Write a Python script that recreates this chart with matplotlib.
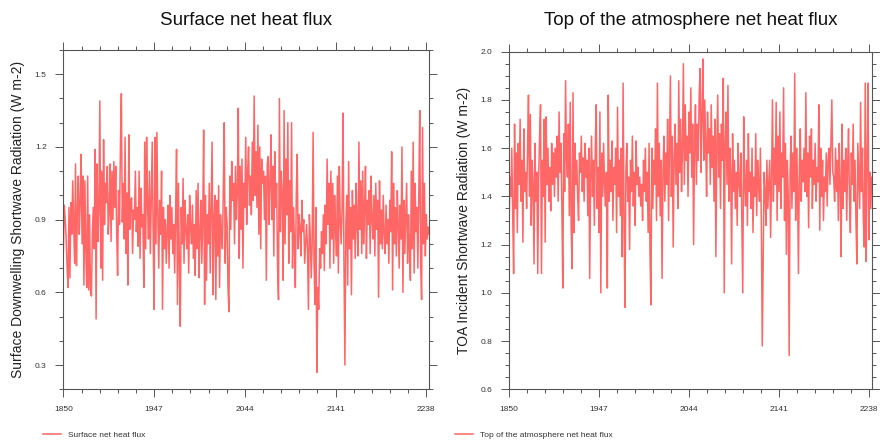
import numpy as np
import matplotlib
matplotlib.use('Agg')
import matplotlib.pyplot as plt
from matplotlib.ticker import FixedLocator, MultipleLocator, FormatStrFormatter

plt.rcParams['font.family'] = ['Liberation Sans', 'DejaVu Sans']

start_year = 1850
xtick_years = [1850, 1947, 2044, 2141, 2238]

# surface downwelling shortwave, one value per year from 1850
sfc_flux = [
    0.77, 0.96, 0.90, 0.82, 0.70, 0.62, 0.95, 0.66, 0.97, 0.84,
    1.06, 0.88, 0.72, 1.13, 0.71, 0.93, 1.08, 0.84, 0.97, 1.17,
    0.80, 1.08, 0.63, 1.06, 0.78, 0.62, 1.08, 0.61, 0.92, 0.60,
    0.585, 0.84, 0.95, 0.78, 1.19, 0.49, 1.13, 0.81, 0.95, 1.39,
    0.70, 1.10, 0.65, 1.23, 0.88, 1.05, 0.97, 1.12, 0.84, 0.93,
    1.13, 0.81, 1.10, 0.90, 1.14, 0.95, 1.12, 0.85, 0.67, 1.02,
    0.88, 1.20, 1.42, 0.89, 1.05, 0.82, 1.24, 0.76, 1.01, 0.63,
    1.25, 0.86, 0.98, 0.99, 0.76, 0.94, 0.90, 1.10, 0.85, 0.95,
    0.79, 1.10, 0.74, 1.03, 0.87, 0.92, 0.62, 1.22, 0.78, 1.24,
    0.96, 0.82, 1.10, 0.76, 0.98, 1.22, 0.85, 0.53, 1.24, 0.80,
    1.26, 0.92, 0.70, 0.98, 0.84, 1.10, 0.53, 0.95, 0.78, 0.90,
    0.72, 0.85, 0.96, 0.70, 1.00, 0.82, 0.95, 0.76, 0.88, 0.68,
    0.92, 1.19, 0.55, 1.05, 0.72, 0.46, 0.95, 0.80, 1.07, 0.72,
    0.98, 0.86, 0.78, 0.92, 0.68, 1.00, 0.87, 0.80, 0.96, 0.74,
    0.88, 0.67, 1.02, 0.78, 1.05, 0.66, 0.84, 0.98, 0.72, 0.90,
    1.27, 0.55, 1.00, 0.65, 0.92, 0.80, 1.05, 0.68, 0.95, 1.22,
    0.59, 0.90, 1.00, 0.57, 0.98, 0.75, 1.04, 0.62, 0.92, 0.84,
    0.78, 1.02, 1.30, 0.72, 0.95, 0.88, 0.62, 0.52, 1.08, 0.86,
    1.14, 0.98, 1.05, 0.80, 1.12, 0.90, 1.02, 1.36, 0.74, 1.12,
    0.86, 1.15, 0.70, 1.05, 0.95, 1.24, 0.88, 1.10, 1.20, 0.96,
    1.08, 0.92, 1.22, 0.98, 1.41, 1.00, 1.18, 0.95, 1.29, 0.84,
    1.20, 0.78, 1.15, 1.05, 1.10, 0.90, 1.08, 0.65, 1.13, 1.16,
    0.88, 1.05, 1.25, 0.90, 1.12, 0.75, 1.18, 0.95, 1.05, 0.70,
    0.57, 1.40, 0.85, 1.10, 1.00, 0.65, 1.35, 0.80, 1.15, 0.92,
    1.30, 0.72, 1.06, 0.85, 1.30, 0.70, 0.95, 0.82, 0.62, 1.00,
    1.17, 0.78, 0.92, 0.86, 0.75, 0.98, 0.85, 0.90, 0.72, 0.80,
    0.88, 0.78, 0.53, 0.92, 0.84, 0.66, 0.80, 1.26, 0.72, 0.55,
    0.95, 0.27, 0.62, 0.53, 0.78, 0.70, 0.85, 0.76, 0.92, 0.69,
    0.96, 0.80, 1.15, 0.88, 1.05, 0.70, 1.10, 0.82, 1.05, 0.72,
    1.00, 0.86, 0.75, 1.08, 0.68, 1.12, 0.90, 0.80, 0.95, 1.34,
    0.72, 0.30, 0.88, 1.00, 0.63, 1.14, 0.78, 0.95, 0.59, 1.02,
    0.82, 0.96, 0.74, 1.05, 0.88, 0.75, 1.22, 0.86, 1.06, 0.76,
    1.10, 0.80, 0.95, 1.12, 0.74, 0.98, 0.88, 1.02, 0.76, 1.08,
    0.90, 0.82, 1.00, 0.75, 1.05, 0.86, 0.98, 0.58, 1.06, 0.80,
    0.94, 0.78, 1.00, 0.84, 0.76, 0.96, 0.80, 0.90, 0.72, 0.98,
    0.85, 1.18, 0.61, 1.05, 0.80, 0.95, 0.75, 1.02, 0.88, 0.70,
    0.96, 0.82, 1.20, 0.60, 0.98, 0.76, 0.90, 1.05, 0.72, 0.92,
    0.80, 0.65, 1.10, 0.78, 1.22, 0.68, 1.05, 0.85, 0.95, 0.70,
    1.00, 1.35, 0.72, 0.57, 1.28, 0.80, 1.05, 0.75, 0.92, 0.82,
    0.87, 0.84,
]

# top of atmosphere incident shortwave, same years
toa_flux = [
    1.25, 1.48, 1.40, 1.60, 1.32, 1.08, 1.70, 1.35, 1.58, 1.25,
    1.62, 1.45, 1.72, 1.38, 1.55, 1.21, 1.68, 1.42, 1.50, 1.35,
    1.60, 1.82, 1.40, 1.74, 1.28, 1.55, 1.45, 1.12, 1.62, 1.38,
    1.50, 1.08, 1.48, 1.65, 1.78, 1.08, 1.55, 1.40, 1.72, 1.21,
    1.73, 1.45, 1.60, 1.38, 1.52, 1.34, 1.62, 1.45, 1.58, 1.40,
    1.60, 1.48, 1.65, 1.38, 1.75, 1.50, 1.62, 1.35, 1.02, 1.66,
    1.42, 1.88, 1.55, 1.48, 1.70, 1.32, 1.79, 1.27, 1.10, 1.83,
    1.25, 1.62, 1.45, 1.55, 1.40, 1.30, 1.58, 1.50, 1.65, 1.42,
    1.56, 1.38, 1.62, 1.48, 1.55, 1.32, 1.60, 1.06, 1.48, 1.65,
    1.40, 1.55, 1.28, 1.60, 1.78, 1.35, 1.52, 1.25, 1.75, 1.00,
    1.58, 1.40, 1.62, 1.45, 1.36, 1.50, 1.02, 1.82, 1.38, 1.55,
    1.42, 1.63, 1.30, 1.52, 1.45, 1.60, 1.25, 1.77, 1.40, 1.55,
    1.32, 1.60, 1.15, 1.87, 1.30, 0.94, 1.50, 1.62, 1.38, 1.48,
    1.18, 1.55, 1.42, 1.65, 1.36, 1.50, 1.28, 1.63, 1.45, 1.52,
    1.40, 1.48, 1.36, 1.45, 1.30, 1.55, 1.42, 1.60, 1.38, 1.50,
    1.25, 1.62, 1.16, 0.95, 1.60, 1.35, 1.55, 1.45, 1.68, 1.30,
    1.87, 1.40, 1.62, 1.32, 1.55, 1.06, 1.50, 1.65, 1.38, 1.58,
    1.45, 1.72, 1.30, 1.60, 1.90, 1.40, 1.65, 1.19, 1.55, 1.70,
    1.45, 1.62, 1.35, 1.88, 1.50, 1.72, 1.42, 1.60, 1.95, 1.45,
    1.78, 1.55, 1.65, 1.40, 1.75, 1.58, 1.85, 1.48, 1.70, 1.20,
    1.62, 1.78, 1.45, 1.70, 1.55, 1.82, 1.93, 1.50, 1.72, 1.97,
    1.55, 1.80, 1.62, 1.40, 1.75, 1.58, 1.68, 1.45, 1.78, 1.52,
    1.65, 1.38, 1.72, 1.15, 1.60, 1.82, 1.48, 1.66, 1.35, 1.70,
    1.55, 1.89, 1.00, 1.62, 1.75, 1.45, 1.86, 1.38, 1.60, 1.50,
    1.12, 1.66, 1.42, 1.55, 1.35, 1.50, 1.28, 1.62, 1.45, 1.40,
    1.58, 1.30, 1.00, 1.73, 1.45, 1.36, 1.55, 1.28, 1.66, 1.42,
    1.50, 1.35, 1.60, 1.25, 1.48, 1.40, 1.66, 1.32, 1.55, 1.45,
    1.38, 1.60, 1.30, 0.78, 1.12, 1.50, 1.42, 1.28, 1.55, 1.35,
    1.45, 1.55, 1.23, 1.48, 1.80, 1.38, 1.60, 1.45, 1.79, 1.30,
    1.65, 1.42, 1.75, 1.35, 1.58, 1.48, 1.85, 1.30, 1.62, 1.16,
    1.55, 1.40, 0.74, 1.50, 1.65, 1.35, 1.58, 1.42, 1.91, 1.30,
    1.60, 1.45, 1.08, 1.52, 1.68, 1.38, 1.55, 1.46, 1.60, 1.42,
    1.83, 1.40, 1.58, 1.27, 1.65, 1.48, 1.68, 1.35, 1.55, 1.45,
    1.62, 1.38, 1.52, 1.46, 1.78, 1.26, 1.60, 1.40, 1.55, 1.30,
    1.48, 1.42, 1.58, 1.36, 1.55, 1.60, 1.45, 1.62, 1.80, 1.50,
    1.48, 1.38, 1.60, 1.42, 1.55, 1.30, 1.62, 1.45, 1.15, 1.70,
    1.35, 1.55, 1.42, 1.60, 1.30, 1.52, 1.68, 1.40, 1.25, 1.58,
    1.45, 1.70, 1.38, 1.55, 1.30, 1.12, 1.62, 1.48, 1.35, 1.79,
    1.42, 1.60, 1.30, 1.19, 1.87, 1.13, 1.55, 1.87, 1.22, 1.50,
    1.35, 1.48,
]

years = np.arange(start_year, start_year + len(sfc_flux))

fig = plt.figure(figsize=(8.8, 4.42), dpi=100)
ax1 = fig.add_axes([0.072, 0.1192, 0.4156, 0.7677])
ax2 = fig.add_axes([0.5784, 0.1192, 0.4122, 0.7638])

line_kw = dict(color='#ff0000', lw=1.1, alpha=0.6)
edge = '#555555'

panels = [
    (ax1, sfc_flux, 'Surface net heat flux',
     'Surface Downwelling Shortwave Radiation (W m-2)', (0.2, 1.6), 0.3, 0.1, 0.049),
    (ax2, toa_flux, 'Top of the atmosphere net heat flux',
     'TOA Incident Shortwave Radiation (W m-2)', (0.6, 2.0), 0.2, 0.05, 0.517),
]

for ax, vals, title, ylab, ylim, ymaj, ymin, leg_x in panels:
    ln, = ax.plot(years, vals, label=title, **line_kw)
    ax.set_xlim(start_year, years[-1])
    ax.set_ylim(*ylim)

    ax.xaxis.set_major_locator(FixedLocator(xtick_years))
    ax.xaxis.set_minor_locator(FixedLocator(np.arange(1850, 2242, 19.4)))
    ax.yaxis.set_major_locator(MultipleLocator(ymaj))
    ax.yaxis.set_minor_locator(MultipleLocator(ymin))
    ax.yaxis.set_major_formatter(FormatStrFormatter('%.1f'))

    ax.tick_params(which='both', direction='out', top=True, right=True,
                   color=edge, labelcolor='#333333', labelsize=6, width=0.7)
    ax.tick_params(which='major', length=6, pad=6)
    ax.tick_params(which='minor', length=3)
    for s in ax.spines.values():
        s.set_color(edge)
        s.set_linewidth(0.8)

    ax.set_ylabel(ylab, fontsize=10, color='#222222')
    ax.yaxis.set_label_coords(-0.105, 0.5)

    # title sits above the plot, centred on the axes
    pos = ax.get_position()
    fig.text((pos.x0 + pos.x1) / 2, 1 - 20.7 / 442, title, ha='center',
             va='center', fontsize=13.5, color='#111111')

    fig.legend(handles=[ln], loc='center left',
               bbox_to_anchor=(leg_x, 0.016), frameon=False,
               fontsize=6, handlelength=2.2, handletextpad=0.8,
               borderpad=0, borderaxespad=0, labelcolor='#333333')

fig.savefig('out.png', dpi=100)
